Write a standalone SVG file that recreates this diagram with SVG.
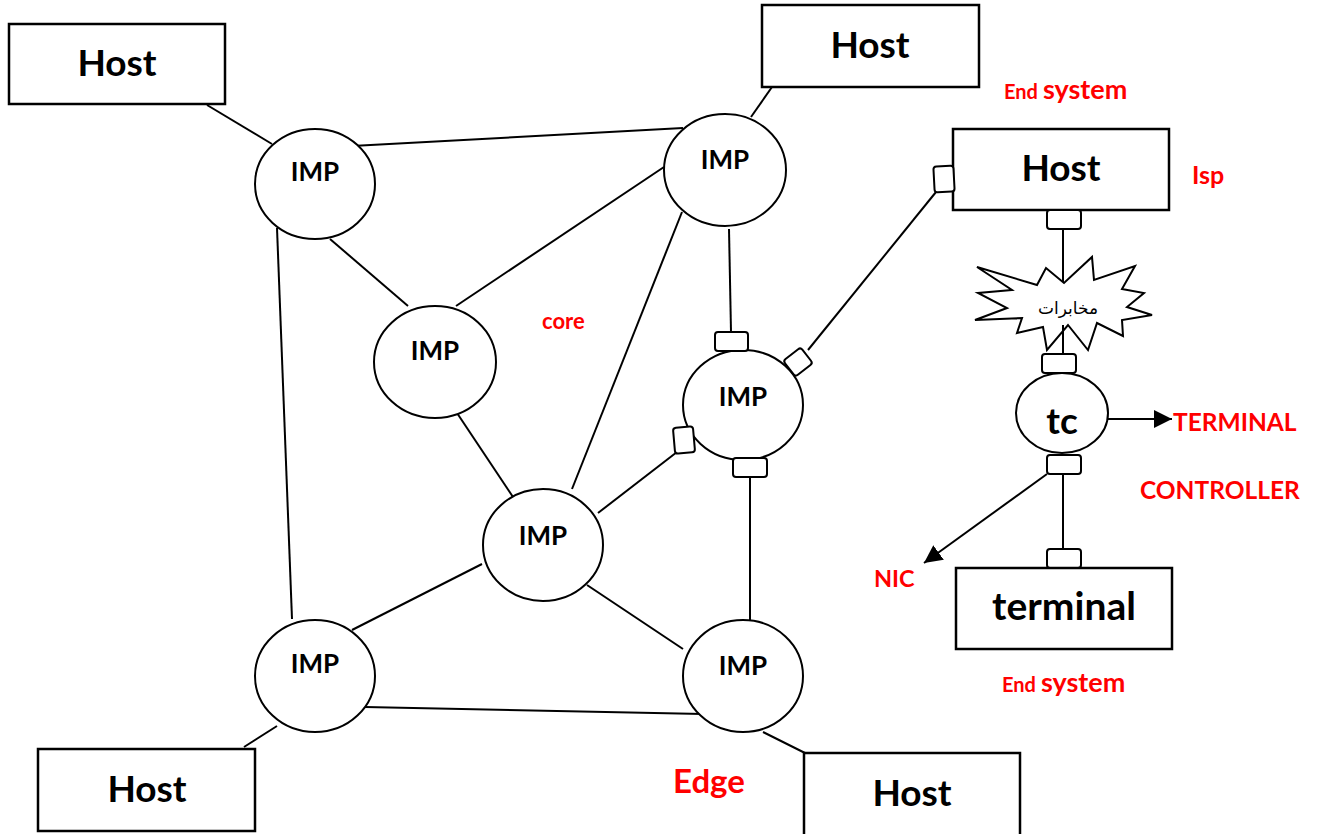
<svg xmlns="http://www.w3.org/2000/svg" width="1319" height="834" viewBox="0 0 1319 834">
<style>
  .box{fill:#fff;stroke:#000;stroke-width:2.5}
  .node{fill:#fff;stroke:#000;stroke-width:2}
  .port{fill:#fff;stroke:#000;stroke-width:2}
  .ln{stroke:#000;stroke-width:2;fill:none}
  .t{font-family:Lato,"Open Sans","Liberation Sans",sans-serif;font-weight:bold;fill:#000;text-anchor:middle}
  .host{font-size:37px}
  .imp{font-size:26px}
  .red{font-family:Lato,"Open Sans","Liberation Sans",sans-serif;font-weight:bold;fill:#ff0000}
</style>
<defs>
  <marker id="arr" markerWidth="20" markerHeight="18" refX="18" refY="9" orient="auto" markerUnits="userSpaceOnUse">
    <path d="M0,0 L18,9 L0,18 z" fill="#000"/>
  </marker>
</defs>
<rect width="1319" height="834" fill="#fff"/>

<g id="connectors">
  <line class="ln" x1="207" y1="105" x2="272" y2="144"/>
  <line class="ln" x1="772" y1="87" x2="751" y2="117"/>
  <line class="ln" x1="352" y1="146" x2="683" y2="128"/>
  <line class="ln" x1="330" y1="239" x2="408" y2="306"/>
  <line class="ln" x1="277" y1="228" x2="292" y2="619"/>
  <line class="ln" x1="664" y1="167" x2="456" y2="306"/>
  <line class="ln" x1="682" y1="212" x2="572" y2="489"/>
  <line class="ln" x1="729" y1="229" x2="731" y2="332"/>
  <line class="ln" x1="457" y1="413" x2="513" y2="497"/>
  <line class="ln" x1="598" y1="513" x2="677" y2="452"/>
  <line class="ln" x1="482" y1="564" x2="352" y2="630"/>
  <line class="ln" x1="587" y1="585" x2="683" y2="649"/>
  <line class="ln" x1="750" y1="477" x2="750" y2="620"/>
  <line class="ln" x1="365" y1="707" x2="703" y2="714"/>
  <line class="ln" x1="277" y1="726" x2="244" y2="747"/>
  <line class="ln" x1="763" y1="732" x2="805" y2="753"/>
  <line class="ln" x1="808" y1="350" x2="936" y2="192"/>
  <line class="ln" x1="1063" y1="229" x2="1063" y2="354"/>
  <line class="ln" x1="1063" y1="474" x2="1063" y2="549"/>
  <line class="ln" x1="1081" y1="419" x2="1172" y2="419" marker-end="url(#arr)"/>
  <line class="ln" x1="1047" y1="474" x2="924" y2="563" marker-end="url(#arr)"/>
</g>

<g id="host-tl">
  <rect class="box" x="9" y="24" width="216" height="80"/>
  <text class="t host" x="117" y="76">Host</text>
</g>
<g id="host-tr">
  <rect class="box" x="762" y="5" width="217" height="82"/>
  <text class="t host" x="870" y="58">Host</text>
</g>
<g id="host-bl">
  <rect class="box" x="38" y="749" width="217" height="82"/>
  <text class="t host" x="147" y="802">Host</text>
</g>
<g id="host-br">
  <rect class="box" x="804" y="753" width="216" height="90"/>
  <text class="t host" x="912" y="806">Host</text>
</g>

<g id="imp1">
  <ellipse class="node" cx="315" cy="184" rx="60" ry="55"/>
  <text class="t imp" x="315" y="181">IMP</text>
</g>
<g id="imp2">
  <ellipse class="node" cx="725" cy="170" rx="61" ry="56"/>
  <text class="t imp" x="725" y="169">IMP</text>
</g>
<g id="imp3">
  <ellipse class="node" cx="435" cy="362" rx="61" ry="56"/>
  <text class="t imp" x="435" y="360">IMP</text>
</g>
<g id="imp4">
  <ellipse class="node" cx="543" cy="545" rx="60" ry="56"/>
  <text class="t imp" x="543" y="545">IMP</text>
</g>
<g id="imp5">
  <ellipse class="node" cx="743" cy="405" rx="60" ry="55"/>
  <text class="t imp" x="743" y="406">IMP</text>
  <rect class="port" x="715" y="332" width="33" height="19" rx="3"/>
  <rect class="port" x="733" y="458" width="34" height="19" rx="3"/>
  <rect class="port" x="674" y="427" width="20" height="26" rx="3" transform="rotate(-5 684 440)"/>
  <rect class="port" x="787" y="352" width="22" height="20" rx="3" transform="rotate(-38 798 362)"/>
</g>
<g id="imp6">
  <ellipse class="node" cx="315" cy="676" rx="60" ry="56"/>
  <text class="t imp" x="315" y="673">IMP</text>
</g>
<g id="imp7">
  <ellipse class="node" cx="743" cy="676" rx="60" ry="56"/>
  <text class="t imp" x="743" y="675">IMP</text>
</g>

<g id="host-isp">
  <rect class="box" x="953" y="129" width="216" height="81"/>
  <text class="t host" x="1061" y="181">Host</text>
  <rect class="port" x="934" y="166" width="20" height="26" rx="3" transform="rotate(-3 944 179)"/>
  <rect class="port" x="1047" y="210" width="34" height="19" rx="3"/>
</g>

<g id="exchange">
  <polygon fill="#fff" stroke="#000" stroke-width="2" points="977,267 1037,285 1046,268 1064,283 1092,257 1094,280 1135,266 1122,289 1144,293 1127,307 1152,315 1122,320 1123,336 1097,323 1088,350 1068,325 1047,350 1043,327 1017,333 1022,318 975,320 1007,308 978,293 1012,290"/>
  <line class="ln" x1="1063" y1="325" x2="1063" y2="354"/>
  <text x="1068" y="314" font-family="'DejaVu Sans',sans-serif" font-size="17" text-anchor="middle" fill="#000">مخابرات</text>
</g>

<g id="tc">
  <rect class="port" x="1042" y="354" width="34" height="19" rx="3"/>
  <ellipse class="node" cx="1062" cy="413" rx="46" ry="40"/>
  <text class="t" x="1062" y="434" font-size="37">tc</text>
  <rect class="port" x="1047" y="455" width="34" height="19" rx="3"/>
</g>

<g id="terminal">
  <rect class="port" x="1047" y="549" width="34" height="19" rx="3"/>
  <rect class="box" x="956" y="568" width="216" height="81"/>
  <text class="t" x="1064" y="620" font-size="39">terminal</text>
</g>

<g id="labels">
  <text class="red" x="1004" y="99"><tspan font-size="20">End</tspan><tspan font-size="27" dx="5">system</tspan></text>
  <text class="red" x="1002" y="692"><tspan font-size="20">End</tspan><tspan font-size="27" dx="5">system</tspan></text>
  <text class="red" x="1192" y="184" font-size="25">Isp</text>
  <text class="red" x="542" y="329" font-size="22">core</text>
  <text class="red" x="673" y="793" font-size="33">Edge</text>
  <text class="red" x="1173" y="431" font-size="24.5">TERMINAL</text>
  <text class="red" x="1140" y="499" font-size="24.5">CONTROLLER</text>
  <text class="red" x="874" y="587" font-size="23.5">NIC</text>
</g>
</svg>
